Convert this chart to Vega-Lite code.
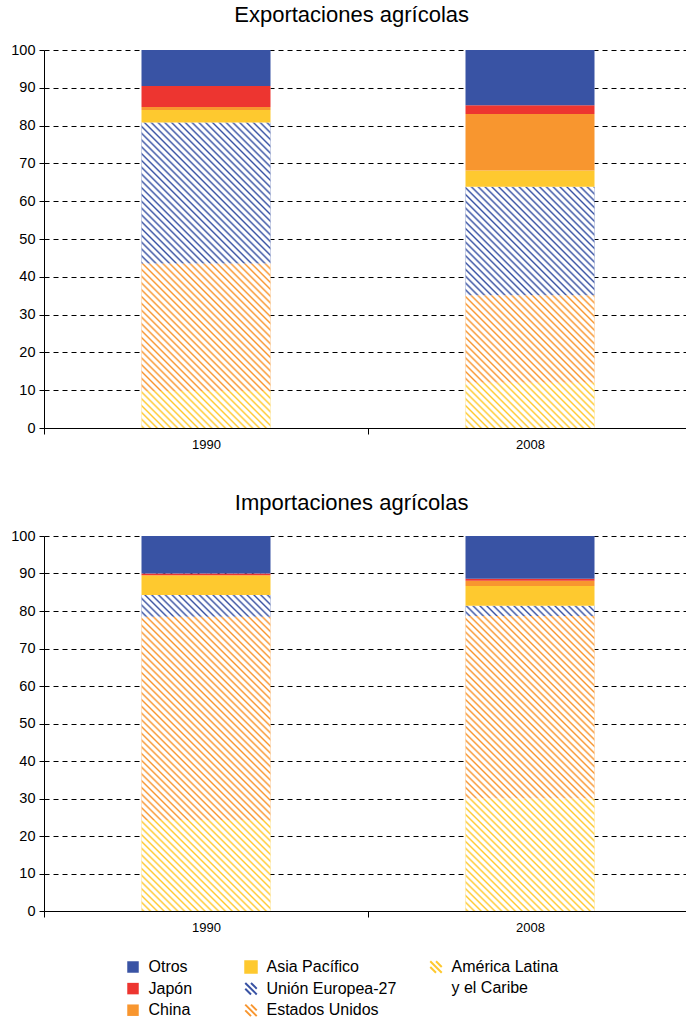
{"$schema":"https://vega.github.io/schema/vega-lite/v6.json","background":"white","padding":{"left":10,"top":4,"right":0,"bottom":0},"autosize":{"type":"pad"},"params":[{"name":"hatch","value":{"gradient":"linear","x1":0,"y1":1,"x2":0.2734,"y2":-0.1698,"stops":[{"offset":0,"color":"#fff"},{"offset":0.003,"color":"#fff0"},{"offset":0.006,"color":"#fff"},{"offset":0.01,"color":"#fff"},{"offset":0.013,"color":"#fff0"},{"offset":0.016,"color":"#fff"},{"offset":0.02,"color":"#fff"},{"offset":0.023,"color":"#fff0"},{"offset":0.026,"color":"#fff"},{"offset":0.03,"color":"#fff"},{"offset":0.033,"color":"#fff0"},{"offset":0.036,"color":"#fff"},{"offset":0.04,"color":"#fff"},{"offset":0.043,"color":"#fff0"},{"offset":0.046,"color":"#fff"},{"offset":0.05,"color":"#fff"},{"offset":0.053,"color":"#fff0"},{"offset":0.056,"color":"#fff"},{"offset":0.06,"color":"#fff"},{"offset":0.063,"color":"#fff0"},{"offset":0.066,"color":"#fff"},{"offset":0.07,"color":"#fff"},{"offset":0.073,"color":"#fff0"},{"offset":0.076,"color":"#fff"},{"offset":0.08,"color":"#fff"},{"offset":0.083,"color":"#fff0"},{"offset":0.086,"color":"#fff"},{"offset":0.09,"color":"#fff"},{"offset":0.093,"color":"#fff0"},{"offset":0.096,"color":"#fff"},{"offset":0.1,"color":"#fff"},{"offset":0.103,"color":"#fff0"},{"offset":0.106,"color":"#fff"},{"offset":0.11,"color":"#fff"},{"offset":0.113,"color":"#fff0"},{"offset":0.116,"color":"#fff"},{"offset":0.12,"color":"#fff"},{"offset":0.123,"color":"#fff0"},{"offset":0.126,"color":"#fff"},{"offset":0.13,"color":"#fff"},{"offset":0.133,"color":"#fff0"},{"offset":0.136,"color":"#fff"},{"offset":0.14,"color":"#fff"},{"offset":0.143,"color":"#fff0"},{"offset":0.146,"color":"#fff"},{"offset":0.15,"color":"#fff"},{"offset":0.153,"color":"#fff0"},{"offset":0.156,"color":"#fff"},{"offset":0.16,"color":"#fff"},{"offset":0.163,"color":"#fff0"},{"offset":0.166,"color":"#fff"},{"offset":0.17,"color":"#fff"},{"offset":0.173,"color":"#fff0"},{"offset":0.176,"color":"#fff"},{"offset":0.18,"color":"#fff"},{"offset":0.183,"color":"#fff0"},{"offset":0.186,"color":"#fff"},{"offset":0.19,"color":"#fff"},{"offset":0.193,"color":"#fff0"},{"offset":0.196,"color":"#fff"},{"offset":0.2,"color":"#fff"},{"offset":0.203,"color":"#fff0"},{"offset":0.206,"color":"#fff"},{"offset":0.21,"color":"#fff"},{"offset":0.213,"color":"#fff0"},{"offset":0.216,"color":"#fff"},{"offset":0.22,"color":"#fff"},{"offset":0.223,"color":"#fff0"},{"offset":0.226,"color":"#fff"},{"offset":0.23,"color":"#fff"},{"offset":0.233,"color":"#fff0"},{"offset":0.236,"color":"#fff"},{"offset":0.24,"color":"#fff"},{"offset":0.243,"color":"#fff0"},{"offset":0.246,"color":"#fff"},{"offset":0.25,"color":"#fff"},{"offset":0.253,"color":"#fff0"},{"offset":0.256,"color":"#fff"},{"offset":0.26,"color":"#fff"},{"offset":0.263,"color":"#fff0"},{"offset":0.266,"color":"#fff"},{"offset":0.27,"color":"#fff"},{"offset":0.273,"color":"#fff0"},{"offset":0.276,"color":"#fff"},{"offset":0.28,"color":"#fff"},{"offset":0.283,"color":"#fff0"},{"offset":0.286,"color":"#fff"},{"offset":0.29,"color":"#fff"},{"offset":0.293,"color":"#fff0"},{"offset":0.296,"color":"#fff"},{"offset":0.3,"color":"#fff"},{"offset":0.303,"color":"#fff0"},{"offset":0.306,"color":"#fff"},{"offset":0.31,"color":"#fff"},{"offset":0.313,"color":"#fff0"},{"offset":0.316,"color":"#fff"},{"offset":0.32,"color":"#fff"},{"offset":0.323,"color":"#fff0"},{"offset":0.326,"color":"#fff"},{"offset":0.33,"color":"#fff"},{"offset":0.333,"color":"#fff0"},{"offset":0.336,"color":"#fff"},{"offset":0.34,"color":"#fff"},{"offset":0.343,"color":"#fff0"},{"offset":0.346,"color":"#fff"},{"offset":0.35,"color":"#fff"},{"offset":0.353,"color":"#fff0"},{"offset":0.356,"color":"#fff"},{"offset":0.36,"color":"#fff"},{"offset":0.363,"color":"#fff0"},{"offset":0.366,"color":"#fff"},{"offset":0.37,"color":"#fff"},{"offset":0.373,"color":"#fff0"},{"offset":0.376,"color":"#fff"},{"offset":0.38,"color":"#fff"},{"offset":0.383,"color":"#fff0"},{"offset":0.386,"color":"#fff"},{"offset":0.39,"color":"#fff"},{"offset":0.393,"color":"#fff0"},{"offset":0.396,"color":"#fff"},{"offset":0.4,"color":"#fff"},{"offset":0.403,"color":"#fff0"},{"offset":0.406,"color":"#fff"},{"offset":0.41,"color":"#fff"},{"offset":0.413,"color":"#fff0"},{"offset":0.416,"color":"#fff"},{"offset":0.42,"color":"#fff"},{"offset":0.423,"color":"#fff0"},{"offset":0.426,"color":"#fff"},{"offset":0.43,"color":"#fff"},{"offset":0.433,"color":"#fff0"},{"offset":0.436,"color":"#fff"},{"offset":0.44,"color":"#fff"},{"offset":0.443,"color":"#fff0"},{"offset":0.446,"color":"#fff"},{"offset":0.45,"color":"#fff"},{"offset":0.453,"color":"#fff0"},{"offset":0.456,"color":"#fff"},{"offset":0.46,"color":"#fff"},{"offset":0.463,"color":"#fff0"},{"offset":0.466,"color":"#fff"},{"offset":0.47,"color":"#fff"},{"offset":0.473,"color":"#fff0"},{"offset":0.476,"color":"#fff"},{"offset":0.48,"color":"#fff"},{"offset":0.483,"color":"#fff0"},{"offset":0.486,"color":"#fff"},{"offset":0.49,"color":"#fff"},{"offset":0.493,"color":"#fff0"},{"offset":0.496,"color":"#fff"},{"offset":0.5,"color":"#fff"},{"offset":0.503,"color":"#fff0"},{"offset":0.506,"color":"#fff"},{"offset":0.51,"color":"#fff"},{"offset":0.513,"color":"#fff0"},{"offset":0.516,"color":"#fff"},{"offset":0.52,"color":"#fff"},{"offset":0.523,"color":"#fff0"},{"offset":0.526,"color":"#fff"},{"offset":0.53,"color":"#fff"},{"offset":0.533,"color":"#fff0"},{"offset":0.536,"color":"#fff"},{"offset":0.54,"color":"#fff"},{"offset":0.543,"color":"#fff0"},{"offset":0.546,"color":"#fff"},{"offset":0.55,"color":"#fff"},{"offset":0.553,"color":"#fff0"},{"offset":0.556,"color":"#fff"},{"offset":0.56,"color":"#fff"},{"offset":0.563,"color":"#fff0"},{"offset":0.566,"color":"#fff"},{"offset":0.57,"color":"#fff"},{"offset":0.573,"color":"#fff0"},{"offset":0.576,"color":"#fff"},{"offset":0.58,"color":"#fff"},{"offset":0.583,"color":"#fff0"},{"offset":0.586,"color":"#fff"},{"offset":0.59,"color":"#fff"},{"offset":0.593,"color":"#fff0"},{"offset":0.596,"color":"#fff"},{"offset":0.6,"color":"#fff"},{"offset":0.603,"color":"#fff0"},{"offset":0.606,"color":"#fff"},{"offset":0.61,"color":"#fff"},{"offset":0.613,"color":"#fff0"},{"offset":0.616,"color":"#fff"},{"offset":0.62,"color":"#fff"},{"offset":0.623,"color":"#fff0"},{"offset":0.626,"color":"#fff"},{"offset":0.63,"color":"#fff"},{"offset":0.633,"color":"#fff0"},{"offset":0.636,"color":"#fff"},{"offset":0.64,"color":"#fff"},{"offset":0.643,"color":"#fff0"},{"offset":0.646,"color":"#fff"},{"offset":0.65,"color":"#fff"},{"offset":0.653,"color":"#fff0"},{"offset":0.656,"color":"#fff"},{"offset":0.66,"color":"#fff"},{"offset":0.663,"color":"#fff0"},{"offset":0.666,"color":"#fff"},{"offset":0.67,"color":"#fff"},{"offset":0.673,"color":"#fff0"},{"offset":0.676,"color":"#fff"},{"offset":0.68,"color":"#fff"},{"offset":0.683,"color":"#fff0"},{"offset":0.686,"color":"#fff"},{"offset":0.69,"color":"#fff"},{"offset":0.693,"color":"#fff0"},{"offset":0.696,"color":"#fff"},{"offset":0.7,"color":"#fff"},{"offset":0.703,"color":"#fff0"},{"offset":0.706,"color":"#fff"},{"offset":0.71,"color":"#fff"},{"offset":0.713,"color":"#fff0"},{"offset":0.716,"color":"#fff"},{"offset":0.72,"color":"#fff"},{"offset":0.723,"color":"#fff0"},{"offset":0.726,"color":"#fff"},{"offset":0.73,"color":"#fff"},{"offset":0.733,"color":"#fff0"},{"offset":0.736,"color":"#fff"},{"offset":0.74,"color":"#fff"},{"offset":0.743,"color":"#fff0"},{"offset":0.746,"color":"#fff"},{"offset":0.75,"color":"#fff"},{"offset":0.753,"color":"#fff0"},{"offset":0.756,"color":"#fff"},{"offset":0.76,"color":"#fff"},{"offset":0.763,"color":"#fff0"},{"offset":0.766,"color":"#fff"},{"offset":0.77,"color":"#fff"},{"offset":0.773,"color":"#fff0"},{"offset":0.776,"color":"#fff"},{"offset":0.78,"color":"#fff"},{"offset":0.783,"color":"#fff0"},{"offset":0.786,"color":"#fff"},{"offset":0.79,"color":"#fff"},{"offset":0.793,"color":"#fff0"},{"offset":0.796,"color":"#fff"},{"offset":0.8,"color":"#fff"},{"offset":0.803,"color":"#fff0"},{"offset":0.806,"color":"#fff"},{"offset":0.81,"color":"#fff"},{"offset":0.813,"color":"#fff0"},{"offset":0.816,"color":"#fff"},{"offset":0.82,"color":"#fff"},{"offset":0.823,"color":"#fff0"},{"offset":0.826,"color":"#fff"},{"offset":0.83,"color":"#fff"},{"offset":0.833,"color":"#fff0"},{"offset":0.836,"color":"#fff"},{"offset":0.84,"color":"#fff"},{"offset":0.843,"color":"#fff0"},{"offset":0.846,"color":"#fff"},{"offset":0.85,"color":"#fff"},{"offset":0.853,"color":"#fff0"},{"offset":0.856,"color":"#fff"},{"offset":0.86,"color":"#fff"},{"offset":0.863,"color":"#fff0"},{"offset":0.866,"color":"#fff"},{"offset":0.87,"color":"#fff"},{"offset":0.873,"color":"#fff0"},{"offset":0.876,"color":"#fff"},{"offset":0.88,"color":"#fff"},{"offset":0.883,"color":"#fff0"},{"offset":0.886,"color":"#fff"},{"offset":0.89,"color":"#fff"},{"offset":0.893,"color":"#fff0"},{"offset":0.896,"color":"#fff"},{"offset":0.9,"color":"#fff"},{"offset":0.903,"color":"#fff0"},{"offset":0.906,"color":"#fff"},{"offset":0.91,"color":"#fff"},{"offset":0.913,"color":"#fff0"},{"offset":0.916,"color":"#fff"},{"offset":0.92,"color":"#fff"},{"offset":0.923,"color":"#fff0"},{"offset":0.926,"color":"#fff"},{"offset":0.93,"color":"#fff"},{"offset":0.933,"color":"#fff0"},{"offset":0.936,"color":"#fff"},{"offset":0.94,"color":"#fff"},{"offset":0.943,"color":"#fff0"},{"offset":0.946,"color":"#fff"},{"offset":0.95,"color":"#fff"},{"offset":0.953,"color":"#fff0"},{"offset":0.956,"color":"#fff"},{"offset":0.96,"color":"#fff"},{"offset":0.963,"color":"#fff0"},{"offset":0.966,"color":"#fff"},{"offset":0.97,"color":"#fff"},{"offset":0.973,"color":"#fff0"},{"offset":0.976,"color":"#fff"},{"offset":0.98,"color":"#fff"},{"offset":0.983,"color":"#fff0"},{"offset":0.986,"color":"#fff"},{"offset":0.99,"color":"#fff"},{"offset":0.993,"color":"#fff0"},{"offset":0.996,"color":"#fff"},{"offset":1,"color":"#fff"}]}}],"datasets":{"shares":[{"chart":"Exportaciones","year":"1990","region":"América Latina y el Caribe","value":9.8},{"chart":"Exportaciones","year":"1990","region":"Estados Unidos","value":33.7},{"chart":"Exportaciones","year":"1990","region":"Unión Europea-27","value":37.3},{"chart":"Exportaciones","year":"1990","region":"Asia Pacífico","value":3.3},{"chart":"Exportaciones","year":"1990","region":"China","value":0.8},{"chart":"Exportaciones","year":"1990","region":"Japón","value":5.6},{"chart":"Exportaciones","year":"1990","region":"Otros","value":9.5},{"chart":"Exportaciones","year":"2008","region":"América Latina y el Caribe","value":12.0},{"chart":"Exportaciones","year":"2008","region":"Estados Unidos","value":23.1},{"chart":"Exportaciones","year":"2008","region":"Unión Europea-27","value":28.7},{"chart":"Exportaciones","year":"2008","region":"Asia Pacífico","value":4.3},{"chart":"Exportaciones","year":"2008","region":"China","value":15.0},{"chart":"Exportaciones","year":"2008","region":"Japón","value":2.3},{"chart":"Exportaciones","year":"2008","region":"Otros","value":14.6},{"chart":"Importaciones","year":"1990","region":"América Latina y el Caribe","value":24.3},{"chart":"Importaciones","year":"1990","region":"Estados Unidos","value":54.2},{"chart":"Importaciones","year":"1990","region":"Unión Europea-27","value":5.8},{"chart":"Importaciones","year":"1990","region":"Asia Pacífico","value":5.1},{"chart":"Importaciones","year":"1990","region":"China","value":0.2},{"chart":"Importaciones","year":"1990","region":"Japón","value":0.4},{"chart":"Importaciones","year":"1990","region":"Otros","value":10.0},{"chart":"Importaciones","year":"2008","region":"América Latina y el Caribe","value":30.0},{"chart":"Importaciones","year":"2008","region":"Estados Unidos","value":48.7},{"chart":"Importaciones","year":"2008","region":"Unión Europea-27","value":2.7},{"chart":"Importaciones","year":"2008","region":"Asia Pacífico","value":5.3},{"chart":"Importaciones","year":"2008","region":"China","value":1.4},{"chart":"Importaciones","year":"2008","region":"Japón","value":0.5},{"chart":"Importaciones","year":"2008","region":"Otros","value":11.4}]},"data":{"name":"shares"},"transform":[{"stack":"value","groupby":["chart","year"],"as":["y0","y1"]}],"spacing":41,"vconcat":[{"title":"Exportaciones agrícolas","width":648,"height":378,"transform":[{"filter":"datum.chart === 'Exportaciones'"}],"encoding":{"x":{"field":"year","type":"nominal","title":null,"scale":{"paddingInner":0,"paddingOuter":0},"axis":{"labelAngle":0,"tickBand":"extent"}},"y":{"field":"y1","type":"quantitative","title":null,"scale":{"domain":[0,100],"nice":false},"axis":{"values":[0,10,20,30,40,50,60,70,80,90,100]}},"y2":{"field":"y0"},"fill":{"field":"region","type":"nominal","scale":{"domain":["Otros","Japón","China","Asia Pacífico","Unión Europea-27","Estados Unidos","América Latina y el Caribe"],"range":["#3953a4","#ed3530","#f8962f","#fec92f","#3953a4","#f8962f","#fec92f"]},"legend":{"values":["Otros","Japón","China"],"orient":"none","legendX":81,"legendY":909,"rowPadding":5.6,"title":null,"direction":"vertical"}},"stroke":{"field":"region","type":"nominal","scale":{"domain":["Asia Pacífico","Unión Europea-27","Estados Unidos","Otros","Japón","China","América Latina y el Caribe"],"range":["#fec92f","#3953a4","#f8962f","#3953a4","#ed3530","#f8962f","#fec92f"]},"legend":{"values":["Asia Pacífico","Unión Europea-27","Estados Unidos"],"orient":"none","legendX":199,"legendY":909,"rowPadding":1.7,"title":null,"direction":"vertical","encoding":{"symbols":{"shape":{"value":{"expr":"datum.value === 'Asia Pacífico' ? 'square' : 'M-1,0L0,1M-1,-1L1,1M0,-1L1,0'"}},"fill":{"value":{"expr":"datum.value === 'Asia Pacífico' ? '#fec92f' : 'transparent'"}},"stroke":{"value":{"expr":"datum.value === 'Unión Europea-27' ? '#3953a4' : datum.value === 'Estados Unidos' ? '#f8962f' : 'transparent'"}},"strokeWidth":{"value":2},"opacity":{"value":1}}}}},"opacity":{"field":"region","type":"nominal","scale":{"type":"point","domain":["América Latina y el Caribe","Otros","Japón","China","Asia Pacífico","Unión Europea-27","Estados Unidos"],"range":[1,1]},"legend":{"values":["América Latina y el Caribe"],"orient":"none","legendX":384,"legendY":909,"title":null,"direction":"vertical","labelExpr":"datum.label === 'América Latina y el Caribe' ? ['América Latina', 'y el Caribe'] : datum.label","encoding":{"symbols":{"shape":{"value":"M-1,0L0,1M-1,-1L1,1M0,-1L1,0"},"fill":{"value":"transparent"},"stroke":{"value":"#fec92f"},"strokeWidth":{"value":2},"opacity":{"value":1}},"labels":{"lineHeight":{"value":21},"baseline":{"value":"alphabetic"},"dy":{"value":5}}}}}},"layer":[{"transform":[{"filter":{"field":"region","oneOf":["América Latina y el Caribe","Estados Unidos","Unión Europea-27"]}}],"mark":{"type":"bar","width":129,"clip":true,"strokeWidth":0}},{"transform":[{"filter":"datum.region === 'Otros'"}],"mark":{"type":"bar","width":129,"clip":true,"strokeWidth":0},"encoding":{"y":{"datum":146,"scale":{"domain":[0,100],"nice":false},"title":null,"axis":{"values":[0,10,20,30,40,50,60,70,80,90,100]}},"y2":{"datum":0},"fill":{"value":{"expr":"hatch"}}}},{"transform":[{"filter":{"field":"region","oneOf":["Asia Pacífico","China","Japón","Otros"]}}],"mark":{"type":"bar","width":129,"clip":true,"strokeWidth":0}}]},{"title":{"text":"Importaciones agrícolas","offset":13},"width":648,"height":375,"transform":[{"filter":"datum.chart === 'Importaciones'"}],"encoding":{"x":{"field":"year","type":"nominal","title":null,"scale":{"paddingInner":0,"paddingOuter":0},"axis":{"labelAngle":0,"tickBand":"extent"}},"y":{"field":"y1","type":"quantitative","title":null,"scale":{"domain":[0,100],"nice":false},"axis":{"values":[0,10,20,30,40,50,60,70,80,90,100]}},"y2":{"field":"y0"},"fill":{"field":"region","type":"nominal","scale":{"domain":["Otros","Japón","China","Asia Pacífico","Unión Europea-27","Estados Unidos","América Latina y el Caribe"],"range":["#3953a4","#ed3530","#f8962f","#fec92f","#3953a4","#f8962f","#fec92f"]},"legend":{"values":["Otros","Japón","China"],"orient":"none","legendX":81,"legendY":909,"rowPadding":5.6,"title":null,"direction":"vertical"}},"stroke":{"field":"region","type":"nominal","scale":{"domain":["Asia Pacífico","Unión Europea-27","Estados Unidos","Otros","Japón","China","América Latina y el Caribe"],"range":["#fec92f","#3953a4","#f8962f","#3953a4","#ed3530","#f8962f","#fec92f"]},"legend":{"values":["Asia Pacífico","Unión Europea-27","Estados Unidos"],"orient":"none","legendX":199,"legendY":909,"rowPadding":1.7,"title":null,"direction":"vertical","encoding":{"symbols":{"shape":{"value":{"expr":"datum.value === 'Asia Pacífico' ? 'square' : 'M-1,0L0,1M-1,-1L1,1M0,-1L1,0'"}},"fill":{"value":{"expr":"datum.value === 'Asia Pacífico' ? '#fec92f' : 'transparent'"}},"stroke":{"value":{"expr":"datum.value === 'Unión Europea-27' ? '#3953a4' : datum.value === 'Estados Unidos' ? '#f8962f' : 'transparent'"}},"strokeWidth":{"value":2},"opacity":{"value":1}}}}},"opacity":{"field":"region","type":"nominal","scale":{"type":"point","domain":["América Latina y el Caribe","Otros","Japón","China","Asia Pacífico","Unión Europea-27","Estados Unidos"],"range":[1,1]},"legend":{"values":["América Latina y el Caribe"],"orient":"none","legendX":384,"legendY":909,"title":null,"direction":"vertical","labelExpr":"datum.label === 'América Latina y el Caribe' ? ['América Latina', 'y el Caribe'] : datum.label","encoding":{"symbols":{"shape":{"value":"M-1,0L0,1M-1,-1L1,1M0,-1L1,0"},"fill":{"value":"transparent"},"stroke":{"value":"#fec92f"},"strokeWidth":{"value":2},"opacity":{"value":1}},"labels":{"lineHeight":{"value":21},"baseline":{"value":"alphabetic"},"dy":{"value":5}}}}}},"layer":[{"transform":[{"filter":{"field":"region","oneOf":["América Latina y el Caribe","Estados Unidos","Unión Europea-27"]}}],"mark":{"type":"bar","width":129,"clip":true,"strokeWidth":0}},{"transform":[{"filter":"datum.region === 'Otros'"}],"mark":{"type":"bar","width":129,"clip":true,"strokeWidth":0},"encoding":{"y":{"datum":146,"scale":{"domain":[0,100],"nice":false},"title":null,"axis":{"values":[0,10,20,30,40,50,60,70,80,90,100]}},"y2":{"datum":0},"fill":{"value":{"expr":"hatch"}}}},{"transform":[{"filter":{"field":"region","oneOf":["Asia Pacífico","China","Japón","Otros"]}}],"mark":{"type":"bar","width":129,"clip":true,"strokeWidth":0}}]}],"config":{"font":"Liberation Sans","view":{"stroke":null},"axis":{"domainColor":"#000","tickColor":"#000","labelColor":"#000","labelFont":"Liberation Sans","labelFontSize":13,"domainWidth":1,"tickWidth":1},"axisY":{"grid":true,"gridColor":"#000","gridDash":[5,4],"gridWidth":1,"tickSize":5,"labelPadding":4,"labelFontSize":14.5},"axisX":{"grid":false,"tickSize":6,"labelPadding":4},"title":{"fontSize":22,"fontWeight":"normal","color":"#000","anchor":"middle","frame":"bounds","offset":15},"legend":{"labelFontSize":16,"labelColor":"#000","labelFont":"Liberation Sans","symbolSize":132,"symbolType":"square","symbolStrokeWidth":0,"labelOffset":7.5,"rowPadding":5.2,"padding":0}}}
